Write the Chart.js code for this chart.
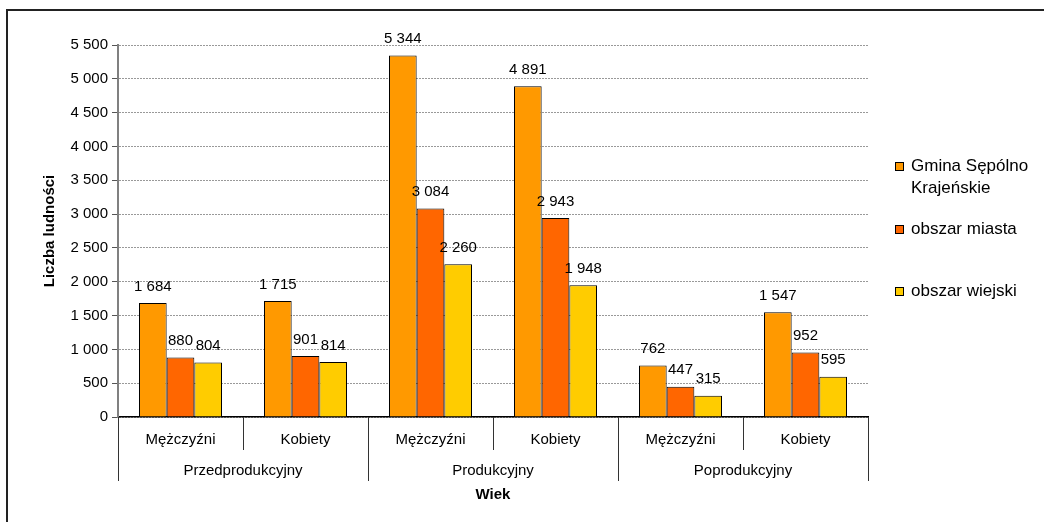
<!DOCTYPE html>
<html>
<head>
<meta charset="utf-8">
<script src="https://cdn.jsdelivr.net/npm/chart.js@4"></script>
<style>
  body { margin: 0; background: #fff; font-family: "Liberation Sans", Arial, sans-serif; }
  #wrap { position: relative; width: 1044px; height: 522px; }
  #frame { position: absolute; left: 6px; top: 9px; right: 0; bottom: 0; border-top: 2px solid #222; border-left: 2px solid #222; pointer-events: none; }
  #legend { position: absolute; left: 895px; top: 155px; font-size: 17px; color: #000; }
  .item { position: absolute; left: 0; white-space: nowrap; line-height: 22px; }
  .box { position: absolute; left: 0; top: 7px; width: 9px; height: 9px; border: 1px solid #000; box-sizing: border-box; }
  .txt { position: absolute; left: 16px; top: 0; }
</style>
</head>
<body>
<div id="wrap">
  <canvas id="chart" width="1044" height="522"></canvas>
  <div id="frame"></div>
  <div id="legend"></div>
</div>
<script>
const groups = ['Przedprodukcyjny', 'Produkcyjny', 'Poprodukcyjny'];
const categories = ['Mężczyźni', 'Kobiety', 'Mężczyźni', 'Kobiety', 'Mężczyźni', 'Kobiety'];
const seriesNames = [['Gmina Sępólno', 'Krajeńskie'], ['obszar miasta'], ['obszar wiejski']];
const gmina = [1684, 1715, 5344, 4891, 762, 1547];
const miasto = [880, 901, 3084, 2943, 447, 952];
const wies = [804, 814, 2260, 1948, 315, 595];
const colors = ['#FF9900', '#FF6600', '#FFCC00'];

const fmt = v => String(v).replace(/\B(?=(\d{3})+(?!\d))/g, ' ');
const FONT = '"Liberation Sans", Arial, sans-serif';

const labelsPlugin = {
    id: 'labels',
    afterDatasetsDraw(chart) {
        const ctx = chart.ctx;
        ctx.save();
        ctx.font = '15px ' + FONT;
        ctx.fillStyle = '#000';
        ctx.textAlign = 'center';
        ctx.textBaseline = 'bottom';
        chart.data.datasets.forEach((ds, i) => {
            chart.getDatasetMeta(i).data.forEach((bar, j) => {
                ctx.fillText(fmt(ds.data[j]), bar.x, bar.y - 9);
            });
        });
        ctx.restore();
    }
};

const axisPlugin = {
    id: 'axisGroups',
    afterDraw(chart) {
        const ctx = chart.ctx;
        const x = chart.scales.x;
        const area = chart.chartArea;
        const step = (area.right - area.left) / categories.length;
        const y0 = area.bottom;
        ctx.save();
        ctx.strokeStyle = '#333';
        ctx.lineWidth = 1;
        for (let i = 0; i <= categories.length; i++) {
            const px = Math.round(area.left + i * step) + 0.5;
            ctx.beginPath();
            ctx.moveTo(px, y0);
            ctx.lineTo(px, i % 2 === 0 ? y0 + 64 : y0 + 33);
            ctx.stroke();
        }
        ctx.fillStyle = '#000';
        ctx.textAlign = 'center';
        ctx.textBaseline = 'middle';
        ctx.font = '15px ' + FONT;
        categories.forEach((c, i) => ctx.fillText(c, x.getPixelForValue(i), y0 + 23));
        groups.forEach((g, i) => ctx.fillText(g, area.left + (i * 2 + 1) * step, y0 + 54));
        ctx.font = 'bold 15px ' + FONT;
        ctx.fillText('Wiek', (area.left + area.right) / 2, y0 + 78);
        ctx.restore();
    }
};

new Chart(document.getElementById('chart'), {
    type: 'bar',
    data: {
        labels: categories,
        datasets: [
            { label: seriesNames[0].join(' '), data: gmina, backgroundColor: colors[0] },
            { label: seriesNames[1].join(' '), data: miasto, backgroundColor: colors[1] },
            { label: seriesNames[2].join(' '), data: wies, backgroundColor: colors[2] },
        ]
    },
    options: {
        responsive: false,
        animation: false,
        layout: { padding: { left: 41, top: 45, right: 176, bottom: 0 } },
        datasets: { bar: { categoryPercentage: 0.664, barPercentage: 1, borderColor: '#000', borderWidth: 1 } },
        plugins: { legend: { display: false }, tooltip: { enabled: false } },
        scales: {
            x: {
                grid: { display: false },
                border: { display: true, color: '#000', width: 1.5 },
                ticks: { display: false },
                afterFit: s => { s.height = 105; }
            },
            y: {
                min: 0, max: 5500,
                ticks: { stepSize: 500, color: '#000', font: { size: 15, family: FONT }, padding: 4, callback: v => fmt(v) },
                grid: { color: '#999', tickColor: '#555', tickLength: 6, tickBorderDash: [0, 0] },
                border: { color: '#808080', width: 2, dash: [2, 1] },
                title: { display: true, text: 'Liczba ludności', color: '#000', font: { size: 15, weight: 'bold', family: FONT }, padding: 0 },
                afterFit: s => { s.width = 77; }
            }
        }
    },
    plugins: [labelsPlugin, axisPlugin]
});

// legend from the series names
const legend = document.getElementById('legend');
const tops = [0, 63, 125];
seriesNames.forEach((name, i) => {
    const item = document.createElement('div');
    item.className = 'item';
    item.style.top = tops[i] + 'px';
    item.innerHTML = '<span class="box" style="background:' + colors[i] + '"></span><span class="txt">' + name.join('<br>') + '</span>';
    legend.appendChild(item);
});
</script>
</body>
</html>
